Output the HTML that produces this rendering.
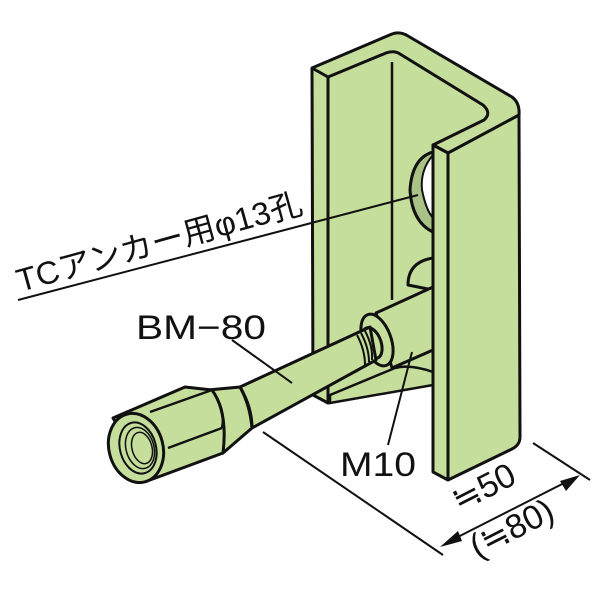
<!DOCTYPE html>
<html><head><meta charset="utf-8"><style>
html,body{margin:0;padding:0;background:#fff;}
svg{display:block}
text{font-family:"Liberation Sans","Noto Sans CJK JP",sans-serif;fill:#111}
.d{position:absolute;font-family:"Liberation Sans","Noto Sans CJK JP",sans-serif;font-size:34px;color:#111;line-height:1;white-space:nowrap;transform-origin:0 100%;transform:rotate(-27deg)}
</style></head><body>
<div style="position:relative;width:600px;height:600px">
<svg width="600" height="600" viewBox="0 0 600 600" xmlns="http://www.w3.org/2000/svg">
<g stroke="#111" stroke-width="3" stroke-linejoin="round" fill="#c6de9c">
<path d="M312,68 L392,34 Q400,31 408,36 L512,97 Q520,103 519,115 L519,140 L448,153 L433,145 L433,300 L433,380 L328,403 L313,395 Z"/>
<path d="M328,77 L386,53 Q394,50 400,54 L483,105 Q492,113 484,120 L433,145" fill="none"/>
<path d="M312,68 L328,77 L328,403" fill="none"/>
<line x1="392" y1="62" x2="392" y2="300" stroke-width="2.5"/>
<path d="M433,152 Q412,158 410,190 Q412,222 433,232 Z" fill="#a9c386"/>
<path d="M433,155 Q420,170 422,190 Q426,210 433,218 Z" fill="#fff" stroke-width="2"/>
<path d="M408,285 Q408,262 433,258 L433,290 Z"/>
<path d="M330,395 L395,368 Q410,364 433,372 L433,385 L330,403 Z" stroke-width="2.5"/>
<path d="M376,313 L433,287 L433,350 L392,368 Z"/>
<ellipse cx="377" cy="340" rx="14" ry="27" transform="rotate(-20 377 340)"/>
<ellipse cx="372" cy="343" rx="9" ry="16" transform="rotate(-20 372 343)"/>
<path d="M370,327 L240,387 L252,428 L376,360 Z"/>
<g fill="none" stroke-width="2">
<path d="M357,335 Q365,350 365,365"/><path d="M361,333 Q369,348 369,362"/><path d="M365,331 Q373,346 372,360"/>
</g>
<path d="M208,390 L240,387 Q250,405 252,428 L223,453 Z"/>
<path d="M240,387 Q252,407 252,428" fill="none"/>
<path d="M113,418 L185,387 L212,390 Q228,412 223,453 L150,480 Z"/>
<path d="M150,412 L212,390 M168,448 L222,428 M185,387 L212,390" fill="none" stroke-width="2.5"/>
<path d="M212,390 Q226,410 222,428" fill="none" stroke-width="2.5"/>
<ellipse cx="136" cy="448" rx="27" ry="35" transform="rotate(-15 136 448)"/>
<ellipse cx="138" cy="448" rx="18" ry="26" transform="rotate(-15 138 448)" fill="none" stroke-width="2"/>
<ellipse cx="140" cy="448" rx="14" ry="21" transform="rotate(-15 140 448)" fill="none" stroke-width="1.5"/>
<ellipse cx="142" cy="448" rx="10" ry="16" transform="rotate(-15 142 448)" fill="none" stroke-width="1.5"/>
<path d="M433,145 L448,153 L519,115 L520,437 Q520,445 512,449 L448,480 L433,472 Z"/>
<line x1="448" y1="153" x2="448" y2="480"/>
</g>
<g stroke="#111" stroke-width="2" fill="none">
<line x1="18" y1="300" x2="418" y2="195"/>
<line x1="232" y1="340" x2="292" y2="383"/>
<line x1="388" y1="445" x2="412" y2="352"/>
<line x1="263" y1="432" x2="443" y2="555"/>
<line x1="533" y1="443" x2="590" y2="480"/>
<line x1="446" y1="543" x2="574" y2="478"/>
</g>
<polygon points="440,547 458,531 462,541" fill="#111"/>
<polygon points="580,475 560,481 566,491" fill="#111"/>
<text font-size="32" textLength="295" lengthAdjust="spacingAndGlyphs" transform="translate(20,292) rotate(-15.5)">TCアンカー用φ13孔</text>
<text x="136" y="339" font-size="34" textLength="130" lengthAdjust="spacingAndGlyphs">BM−80</text>
<text x="340" y="476" font-size="34" textLength="76" lengthAdjust="spacingAndGlyphs">M10</text>
</svg>
<div class="d" style="left:462px;top:484px">≒50</div>
<div class="d" style="left:480px;top:530px">(≒80)</div>
</div>
</body></html>
